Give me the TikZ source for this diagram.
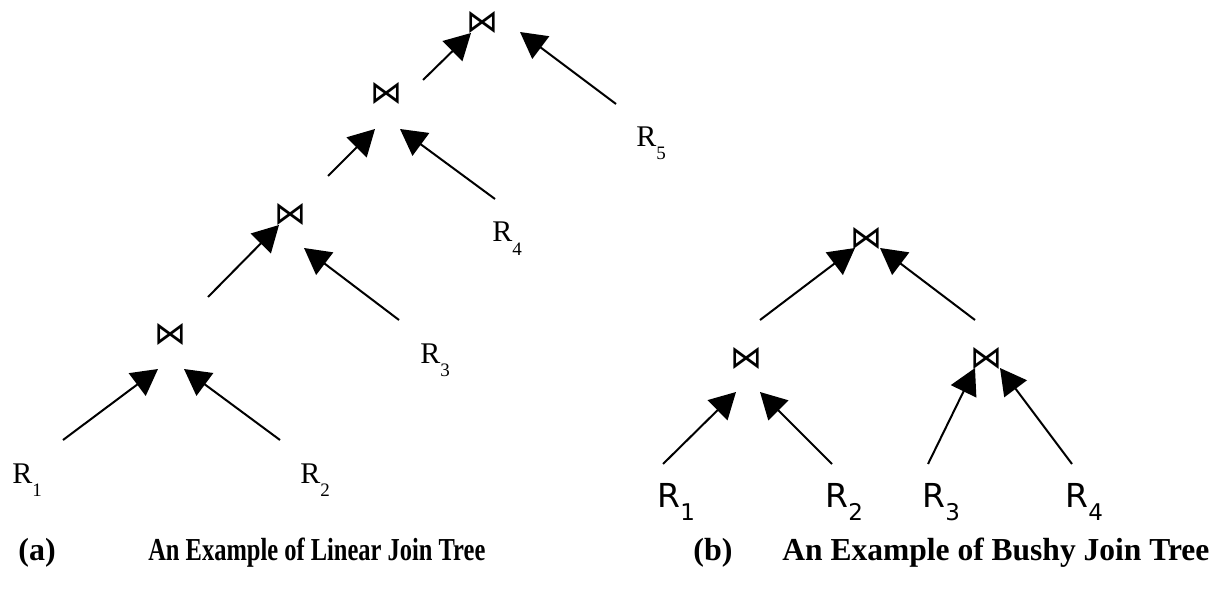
\documentclass[tikz,border=0pt]{standalone}
\usepackage{fontspec}
\setmainfont{Liberation Serif}
\newfontfamily\dejavu{DejaVu Sans}
\usetikzlibrary{arrows.meta}

\newcommand{\Rlin}[1]{{\fontsize{15}{15}\selectfont R\raisebox{-6.5pt}{\fontsize{9.5}{10}\selectfont #1}}}
\newcommand{\Rbus}[1]{{\dejavu\fontsize{16.5}{17}\selectfont R\raisebox{-6.5pt}{\fontsize{11.5}{12}\selectfont #1}}}
\newcommand{\joinop}{{\dejavu\fontsize{16}{16}\selectfont ⋈}}

\tikzset{
  rel/.style={inner sep=0pt, anchor=base west},
  op/.style={inner sep=0pt},
  edge/.style={line width=1pt, -{Triangle[length=13pt,width=14pt]}},
  caption/.style={inner sep=0pt, anchor=base west,
    font=\fontsize{16}{16}\selectfont\bfseries}
}

\begin{document}
\begin{tikzpicture}[x=0.5pt, y=-0.5pt]
    \useasboundingbox (0,0) rectangle (1229,593);

    % Draw Linear Join Tree
    \node[op] (j1) at (170,334) {\joinop};
    \node[op] (j2) at (290,214) {\joinop};
    \node[op] (j3) at (386,93) {\joinop};
    \node[op] (j4) at (482,22) {\joinop};
    \node[rel] (r1) at (12,483) {\Rlin{1}};
    \node[rel] (r2) at (300,483) {\Rlin{2}};
    \node[rel] (r3) at (420,363) {\Rlin{3}};
    \node[rel] (r4) at (492,242) {\Rlin{4}};
    \node[rel] (r5) at (636,147) {\Rlin{5}};

    \coordinate (r1-out) at (63,440);   \coordinate (j1-left) at (158,369);
    \coordinate (r2-out) at (280,440);  \coordinate (j1-right) at (184,369);
    \coordinate (j1-out) at (208,297);  \coordinate (j2-left) at (279,225);
    \coordinate (r3-out) at (399,320);  \coordinate (j2-right) at (304,248);
    \coordinate (j2-out) at (328,176);  \coordinate (j3-left) at (375,129);
    \coordinate (r4-out) at (495,199);  \coordinate (j3-right) at (400,129);
    \coordinate (j3-out) at (423,80);   \coordinate (j4-left) at (471,33);
    \coordinate (r5-out) at (616,104);  \coordinate (j4-right) at (520,32);

    \draw[edge] (r1-out) -- (j1-left);
    \draw[edge] (r2-out) -- (j1-right);
    \draw[edge] (j1-out) -- (j2-left);
    \draw[edge] (r3-out) -- (j2-right);
    \draw[edge] (j2-out) -- (j3-left);
    \draw[edge] (r4-out) -- (j3-right);
    \draw[edge] (j3-out) -- (j4-left);
    \draw[edge] (r5-out) -- (j4-right);

    % Draw Bushy Join Tree
    \node[op] (k1) at (746,358) {\joinop};
    \node[op] (k2) at (986,358) {\joinop};
    \node[op] (k3) at (866,238) {\joinop};
    \node[rel] (s1) at (657,507) {\Rbus{1}};
    \node[rel] (s2) at (825,507) {\Rbus{2}};
    \node[rel] (s3) at (922,507) {\Rbus{3}};
    \node[rel] (s4) at (1065,507) {\Rbus{4}};

    \coordinate (s1-out) at (663,464);  \coordinate (k1-left) at (736,392);
    \coordinate (s2-out) at (832,464);  \coordinate (k1-right) at (760,392);
    \coordinate (s3-out) at (928,464);  \coordinate (k2-left) at (975,368);
    \coordinate (s4-out) at (1072,464); \coordinate (k2-right) at (1000,368);
    \coordinate (k1-out) at (760,320);  \coordinate (k3-left) at (855,248);
    \coordinate (k2-out) at (975,320);  \coordinate (k3-right) at (880,248);

    \draw[edge] (s1-out) -- (k1-left);
    \draw[edge] (s2-out) -- (k1-right);
    \draw[edge] (s3-out) -- (k2-left);
    \draw[edge] (s4-out) -- (k2-right);
    \draw[edge] (k1-out) -- (k3-left);
    \draw[edge] (k2-out) -- (k3-right);

    % Captions
    \node[caption] (cap-a) at (18,560) {(a)};
    \node[caption, xscale=0.765] (txt-a) at (148,560) {An Example of Linear Join Tree};
    \node[caption] (cap-b) at (693,560) {(b)};
    \node[caption, xscale=0.985] (txt-b) at (782,560) {An Example of Bushy Join Tree};
\end{tikzpicture}
\end{document}
